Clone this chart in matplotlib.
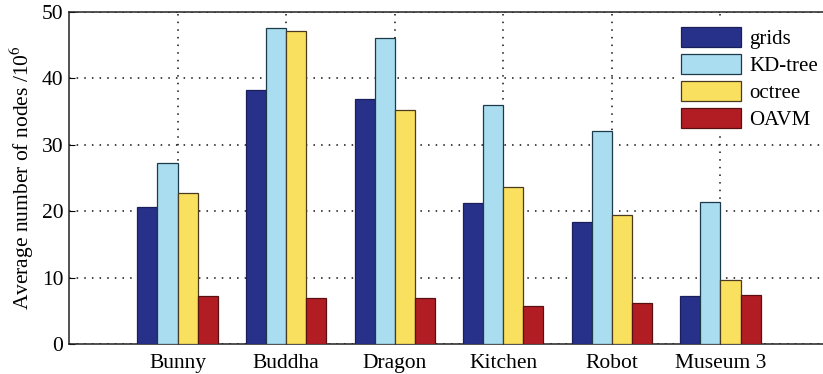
import numpy as np
import matplotlib.pyplot as plt

plt.rcParams['font.family'] = ['Liberation Serif', 'DejaVu Serif']
plt.rcParams['mathtext.fontset'] = 'stix'

scenes = ['Bunny', 'Buddha', 'Dragon', 'Kitchen', 'Robot', 'Museum 3']
grids = [20.6, 38.2, 36.9, 21.2, 18.4, 7.2]
kdtree = [27.3, 47.6, 46.1, 36.0, 32.1, 21.4]
octree = [22.7, 47.1, 35.2, 23.6, 19.5, 9.6]
oavm = [7.2, 7.0, 7.0, 5.8, 6.2, 7.4]

series = [('grids', grids, '#28318a', '#1a1f5c'),
          ('KD-tree', kdtree, '#a9ddef', '#1d3a4a'),
          ('octree', octree, '#f9e05e', '#4a3a20'),
          ('OAVM', oavm, '#b21d24', '#5a1010')]

fig = plt.figure(figsize=(8.23, 3.74), dpi=100)
ax = fig.add_axes([0.0838, 0.080, 0.9235, 0.888])

x = np.arange(1, len(scenes) + 1)
w = 0.185
for i, (name, vals, fc, ec) in enumerate(series):
    ax.bar(x + (i - 1.5) * w, vals, w, color=fc, edgecolor=ec,
           linewidth=0.9, label=name, zorder=3)

ax.set_xlim(0, 7)
ax.set_ylim(0, 50)
ax.set_xticks(x)
ax.set_xticklabels(scenes, fontsize=15.5)
ax.set_yticks([0, 10, 20, 30, 40, 50])
ax.tick_params(axis='y', labelsize=15.5, direction='in', length=4, pad=4)
ax.tick_params(axis='x', direction='in', length=4, pad=7)
ax.grid(True, linestyle=(0, (1, 4)), color='#111111', linewidth=1.1, zorder=0)
ax.set_axisbelow(True)
ax.set_ylabel('Average number of nodes /10$^6$', fontsize=15.5, labelpad=4)
for s in ax.spines.values():
    s.set_linewidth(1.1)
    s.set_color('#222222')

# legend boxes are tall and close together
leg = ax.legend(loc='upper right', bbox_to_anchor=(0.999, 0.985), fontsize=15,
                handlelength=2.85, handleheight=1.05, labelspacing=0.25,
                handletextpad=0.4, borderaxespad=0.2, borderpad=0.3,
                fancybox=False)
leg.get_frame().set_edgecolor('none')
leg.get_frame().set_facecolor('white')
leg.get_frame().set_alpha(1)

fig.savefig('out.png', dpi=100)
